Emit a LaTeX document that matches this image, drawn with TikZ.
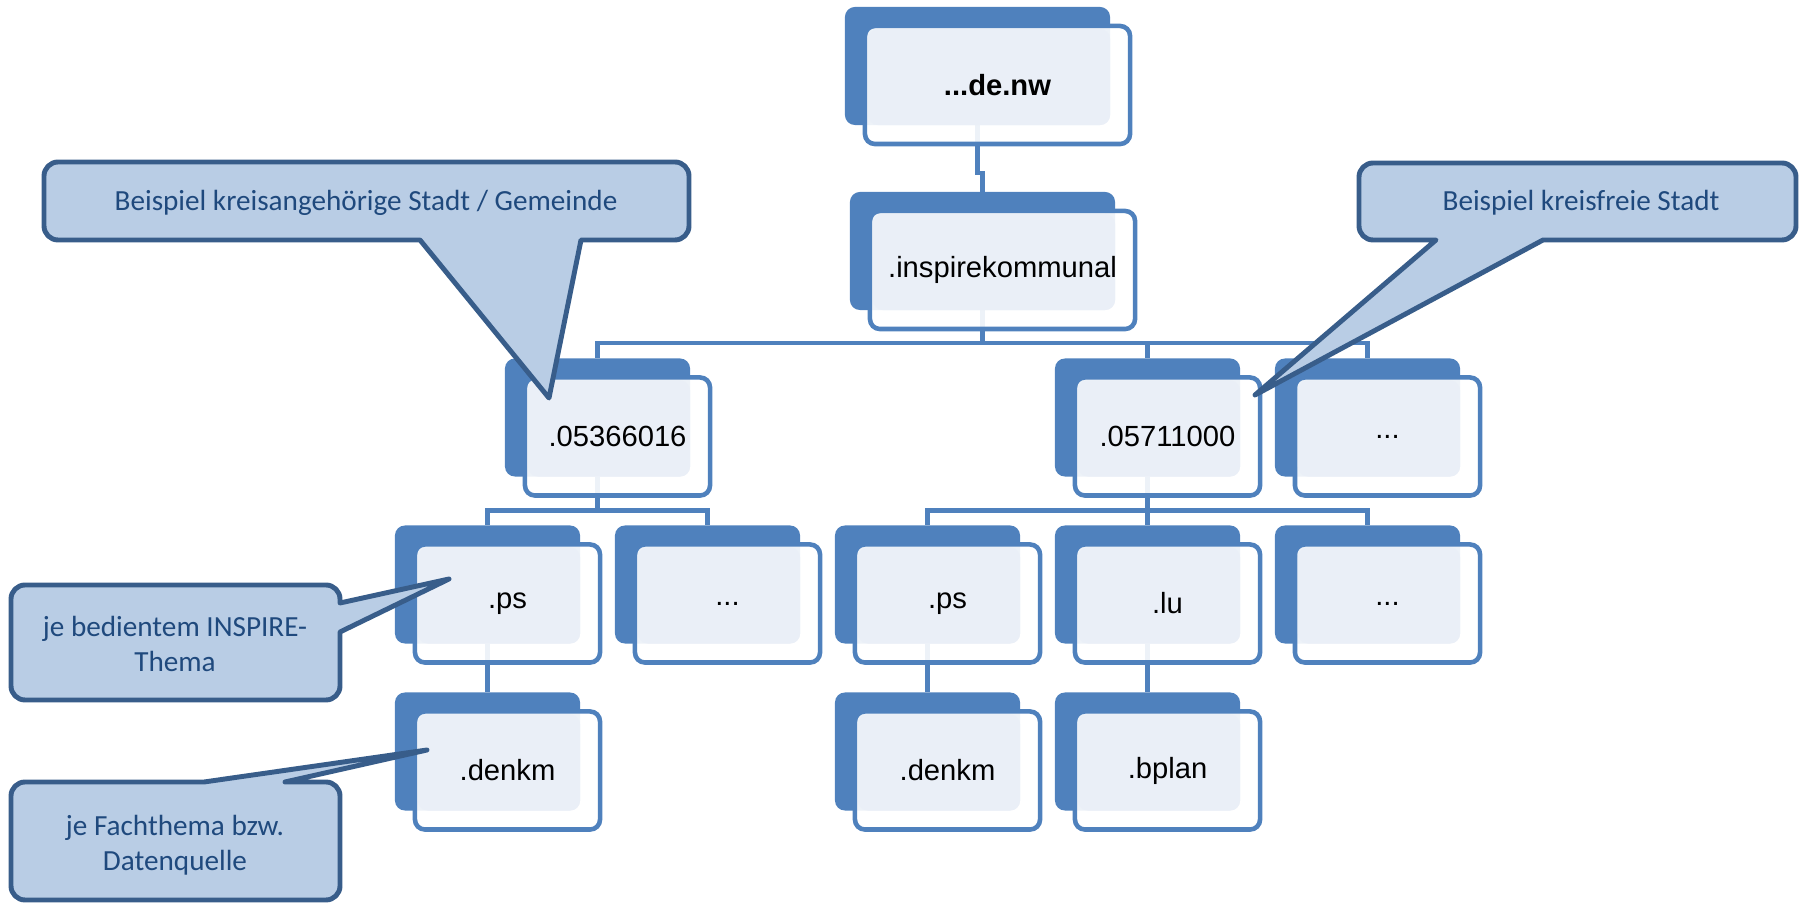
\documentclass[tikz,border=0pt]{standalone}
\usepackage{fontspec}
\setmainfont{Liberation Sans}
\newfontfamily\callfont{Carlito}
\usetikzlibrary{calc}
\definecolor{domblue}{HTML}{4F81BD}
\definecolor{domlight}{HTML}{EAEFF7}
\definecolor{callfill}{HTML}{B9CDE5}
\definecolor{callline}{HTML}{385D8A}
\definecolor{calltext}{HTML}{1F497D}
\pgfdeclarelayer{background}
\pgfsetlayers{background,main}
\tikzset{
  dombox/.style={
    rectangle,
    rounded corners=0.1cm,
    fill=domblue,
    minimum height=1.18cm,
    inner sep=0pt, outer sep=0pt
  },
  domframe/.style={
    rectangle,
    rounded corners=0.1cm,
    draw=domblue, line width=1.3pt,
    fill=white, fill opacity=0.9,
    minimum height=1.18cm,
    inner sep=0pt, outer sep=0pt
  },
  domtext/.style={font=\fontsize{8.3}{10}\selectfont},
  callout/.style={draw=callline, fill=callfill, line width=1.4pt, line join=round},
  callouttext/.style={font=\callfont\fontsize{8.3}{10}\selectfont, text=calltext, align=center}
}
\tikzstyle{conn} = [draw=domblue, line width=1.2pt]
% #1 name, #2 position, #3 width, #4 label
\def\domnode#1#2#3#4{%
  \node[dombox, minimum width=#3] (#1) at (#2) {};
  \node[domframe, minimum width=#3, anchor=north west] (#1-f) at ($(#1.north west)+(20,19)$) {};
  \fill[domlight, rounded corners=0.1cm] ($(#1-f.north west)+(3,3)$) rectangle (#1.south east);
  \node[domtext] (#1-t) at (#1-f) {#4};
}

\begin{document}
\begin{tikzpicture}[x=0.01cm, y=-0.01cm]
    \useasboundingbox (0,0) rectangle (1800,904);
    \domnode{nw}{977.5,66}{2.65cm}{\textbf{...de.nw}}
    \domnode{kommunal}{982.5,251}{2.65cm}{.inspirekommunal}
    \domnode{gem}{597.5,417.5}{1.85cm}{.05366016}
    \domnode{kfs}{1147.5,417.5}{1.85cm}{.05711000}
    \domnode{more}{1367.5,417.5}{1.85cm}{...}
    \domnode{gemps}{487.5,584.5}{1.85cm}{.ps}
    \domnode{gemmore}{707.5,584.5}{1.85cm}{...}
    \domnode{kfsps}{927.5,584.5}{1.85cm}{.ps}
    \domnode{kfslu}{1147.5,584.5}{1.85cm}{.lu}
    \domnode{kfsmore}{1367.5,584.5}{1.85cm}{...}
    \domnode{gemdenkm}{487.5,751.5}{1.85cm}{.denkm}
    \domnode{kfsdenkm}{927.5,751.5}{1.85cm}{.denkm}
    \domnode{kfsbplan}{1147.5,751.5}{1.85cm}{.bplan}

    \begin{pgfonlayer}{background}
    \draw[conn] (nw.south) -- ++(0,48) -| (kommunal.north);
    \draw[conn] (kommunal.south) -- ++(0,33) -| (gem.north);
    \draw[conn] (kommunal.south) -- ++(0,33) -| (kfs.north);
    \draw[conn] (kommunal.south) -- ++(0,33) -| (more.north);
    \draw[conn] (gem.south) -- ++(0,34) -| (gemps.north);
    \draw[conn] (gem.south) -- ++(0,34) -| (gemmore.north);
    \draw[conn] (kfs.south) -- ++(0,34) -| (kfsps.north);
    \draw[conn] (kfs.south) -- ++(0,34) -| (kfslu.north);
    \draw[conn] (kfs.south) -- ++(0,34) -| (kfsmore.north);
    \draw[conn] (gemps.south) -- (gemdenkm.north);
    \draw[conn] (kfsps.south) -- (kfsdenkm.north);
    \draw[conn] (kfslu.south) -- (kfsbplan.north);
    \end{pgfonlayer}

    % callouts
    \draw[callout] (44,201) [rounded corners=0.14cm] -- (44,162) -- (689,162) -- (689,240) [sharp corners] -- (581,240) -- (549,398) -- (420,240) [rounded corners=0.14cm] -- (44,240) -- cycle;
    \node[callouttext] (hintgem) at (366,203) {Beispiel kreisangehörige Stadt / Gemeinde};
    \draw[callout] (1359,201) [rounded corners=0.14cm] -- (1359,163) -- (1796,163) -- (1796,240) [sharp corners] -- (1543,240) -- (1255,395) -- (1436,240) [rounded corners=0.14cm] -- (1359,240) -- cycle;
    \node[callouttext] (hintkfs) at (1581,203) {Beispiel kreisfreie Stadt};
    \draw[callout] (11,642) [rounded corners=0.14cm] -- (11,585) -- (340,585) [sharp corners] -- (340,603) -- (449,579) -- (340,632) [rounded corners=0.14cm] -- (340,700) -- (11,700) -- cycle;
    \node[callouttext] (hintthema) at (175,644) {je bedientem INSPIRE-\\Thema};
    \draw[callout] (11,842) [rounded corners=0.14cm] -- (11,782) [sharp corners] -- (204,782) -- (427,750) -- (285,782) [rounded corners=0.14cm] -- (340,782) -- (340,900) -- (11,900) -- cycle;
    \node[callouttext] (hintquelle) at (175,845) {je Fachthema bzw.\\Datenquelle};
\end{tikzpicture}
\end{document}
